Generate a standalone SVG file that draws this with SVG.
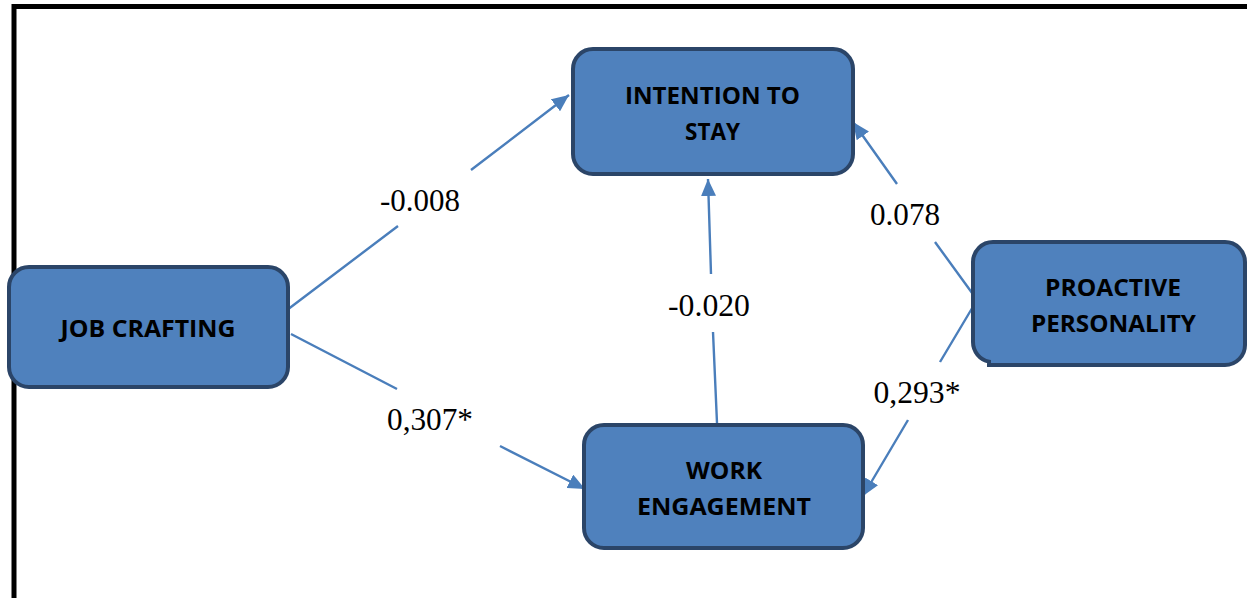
<svg xmlns="http://www.w3.org/2000/svg" width="1247" height="598" viewBox="0 0 1247 598">
<style>
.box{fill:#4f81bd;stroke:#2b4568;stroke-width:4}
.lbl{font-family:"Open Sans","Liberation Sans",Arial,sans-serif;font-weight:bold;font-size:24px;fill:#000;text-anchor:middle}
.num{font-family:"Liberation Serif","Times New Roman",serif;font-size:31px;fill:#000;text-anchor:middle}
.conn{fill:none;stroke:#4a7ebb;stroke-width:2.4}
</style>
<defs>
<marker id="ah" markerUnits="userSpaceOnUse" markerWidth="18" markerHeight="15" refX="17" refY="7.5" orient="auto">
<path d="M0,0 L17,7.5 L0,15 z" fill="#4a7ebb"/>
</marker>
</defs>
<rect width="1247" height="598" fill="#fff"/>
<path d="M14,598 L14,6.5 L1247,6.5" fill="none" stroke="#000" stroke-width="5"/>
<g id="connectors">
<path class="conn" d="M287,310 L398,226 M471,170 L569,95" marker-end="url(#ah)"/>
<path class="conn" d="M291,334 L397,389 M500,446 L585,489" marker-end="url(#ah)"/>
<path class="conn" d="M717,423 L713,332 M711,274 L708,179" marker-end="url(#ah)"/>
<path class="conn" d="M975,297 L935,242 M897,184 L853,122" marker-end="url(#ah)"/>
<path class="conn" d="M974,305 L940,362 M908,420 L863,496" marker-end="url(#ah)"/>
</g>
<g id="labels">
<text class="num" x="420" y="211" textLength="80" lengthAdjust="spacingAndGlyphs">-0.008</text>
<text class="num" x="430" y="430" textLength="86" lengthAdjust="spacingAndGlyphs">0,307*</text>
<text class="num" x="709" y="316" textLength="82" lengthAdjust="spacingAndGlyphs">-0.020</text>
<text class="num" x="905" y="225" textLength="70" lengthAdjust="spacingAndGlyphs">0.078</text>
<text class="num" x="917" y="403" textLength="87" lengthAdjust="spacingAndGlyphs">0,293*</text>
</g>
<g id="job-crafting">
<rect class="box" x="9" y="267" width="279" height="120" rx="20"/>
<text class="lbl" x="148" y="337" textLength="175" lengthAdjust="spacingAndGlyphs">JOB CRAFTING</text>
</g>
<g id="intention-to-stay">
<rect class="box" x="573" y="49" width="280" height="125" rx="20"/>
<text class="lbl" x="712.5" y="104" textLength="175" lengthAdjust="spacingAndGlyphs">INTENTION TO</text>
<text class="lbl" x="712.5" y="140" textLength="55" lengthAdjust="spacingAndGlyphs">STAY</text>
</g>
<g id="work-engagement">
<rect class="box" x="584" y="425" width="279" height="123" rx="20"/>
<text class="lbl" x="724" y="479" textLength="76" lengthAdjust="spacingAndGlyphs">WORK</text>
<text class="lbl" x="724" y="515" textLength="174" lengthAdjust="spacingAndGlyphs">ENGAGEMENT</text>
</g>
<g id="proactive-personality">
<path class="box" d="M973,262 A20,20 0 0 1 993,242 H1225 A20,20 0 0 1 1245,262 V345 A20,20 0 0 1 1225,365 H989 V361.6 A20,20 0 0 1 973,342 Z"/>
<text class="lbl" x="1113" y="296" textLength="136" lengthAdjust="spacingAndGlyphs">PROACTIVE</text>
<text class="lbl" x="1113.5" y="332" textLength="165" lengthAdjust="spacingAndGlyphs">PERSONALITY</text>
</g>
</svg>
